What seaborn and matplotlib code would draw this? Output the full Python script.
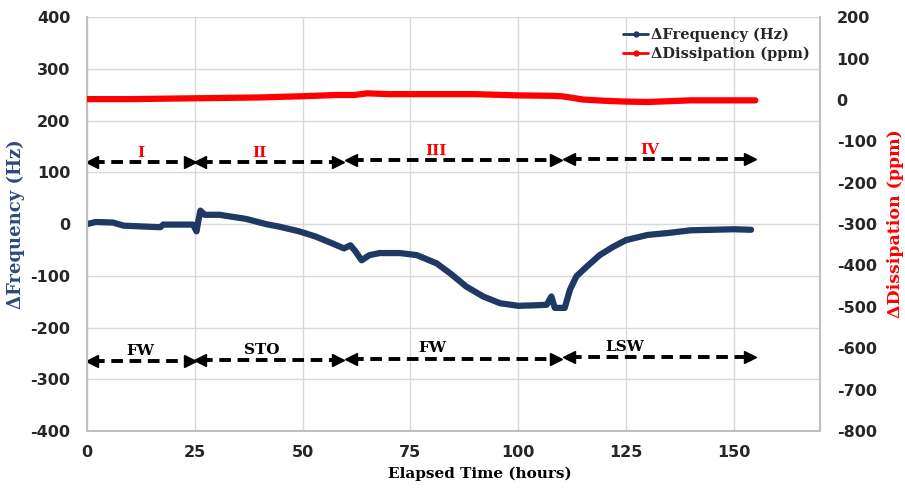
import matplotlib
matplotlib.use('Agg')
import matplotlib.pyplot as plt
import seaborn as sns
import pandas as pd
from matplotlib.lines import Line2D
from matplotlib.font_manager import FontProperties

# data
time_freq = [0, 2, 6, 8.5, 14, 17, 17.7, 24.6, 25.4, 25.8, 26.3, 27.3, 30.7, 36.9, 41.5, 44.6,
             49.2, 53, 57.1, 59.6, 61.1, 62.2, 63.7, 65.5, 67.9, 72.6, 76.5, 81.1, 84.2, 88,
             91.9, 95.8, 100, 104, 106.6, 107.7, 108.5, 110.8, 112, 113.5, 115.8, 118.9,
             122, 125, 130, 135, 140, 145, 150, 154]
freq_hz = [0, 4, 3, -3, -5, -6, -1, -1, -14, 5, 26, 18, 18, 10, 0, -5,
           -14, -24, -38, -47, -41, -52, -70, -60, -56, -56, -60, -76, -95, -121,
           -140, -153, -158, -157, -156, -140, -162, -162, -127, -101, -83, -60,
           -44, -31, -21, -17, -12, -11, -10, -11]

time_diss = [0, 10, 25, 40, 50, 58, 62, 65, 70, 80, 90, 100, 108, 110, 112, 115, 120, 125,
             130, 135, 140, 150, 155]
diss_ppm = [2, 2, 4, 6, 9, 12, 12, 16, 14, 14, 14, 11, 10, 9, 6, 1, -2, -4, -5, -3, -1, -1, -1]

phase_start = [0, 25, 60, 110.5]
phase_end = [25, 59.5, 110, 155]
phase_roman = ['I', 'II', 'III', 'IV']
phase_medium = ['FW', 'STO', 'FW', 'LSW']
roman_x = [12.5, 40, 81, 130.5]
medium_x = [12.3, 40.5, 80, 124.7]
roman_y = [120, 120, 123, 125]
medium_y = [-265, -263, -260, -257]

df_f = pd.DataFrame({'t': time_freq, 'f': freq_hz})
df_d = pd.DataFrame({'t': time_diss, 'd': diss_ppm})

sns.set_theme(style='white')
plt.rcParams['font.family'] = ['DejaVu Serif']
plt.rcParams['axes.unicode_minus'] = False

blue = '#1F3864'
red = '#FF0000'
grid = '#D9D9D9'

fig = plt.figure(figsize=(9.05, 4.88), dpi=100)
ax = fig.add_axes([0.0961, 0.1168, 0.81, 0.848])
ax2 = ax.twinx()

sns.lineplot(data=df_f, x='t', y='f', ax=ax, color=blue, linewidth=4.5)
sns.lineplot(data=df_d, x='t', y='d', ax=ax2, color=red, linewidth=4.5)

ax.set_xlim(0, 170)
ax.set_ylim(-400, 400)
ax2.set_ylim(-800, 200)
ax.set_xticks([0, 25, 50, 75, 100, 125, 150])
ax.set_yticks(range(-400, 401, 100))
ax2.set_yticks(range(-800, 201, 100))

ax.grid(True, color=grid, linewidth=1)
ax.set_axisbelow(True)
ax2.grid(False)

for a in (ax, ax2):
    for s in a.spines.values():
        s.set_visible(False)
    a.tick_params(length=0)
ax.spines['left'].set_visible(True)
ax.spines['bottom'].set_visible(True)
ax2.spines['right'].set_visible(True)
for s in (ax.spines['left'], ax.spines['bottom'], ax2.spines['right']):
    s.set_color('#BFBFBF')
    s.set_linewidth(1.5)

tick_font = FontProperties(family='DejaVu Sans', weight='bold', size=11.5)
for lbl in ax.get_xticklabels() + ax.get_yticklabels() + ax2.get_yticklabels():
    lbl.set_fontproperties(tick_font)
ax.tick_params(axis='y', pad=12)
ax.tick_params(axis='x', pad=10)
ax2.tick_params(axis='y', pad=12)

ax.set_xlabel('Elapsed Time (hours)', fontsize=11, fontweight='bold', color='black')
ax.xaxis.set_label_coords(0.536, -0.085)
ax.set_ylabel('ΔFrequency (Hz)', fontsize=13, fontweight='bold', color='#2E4A7D')
ax.yaxis.set_label_coords(-0.085, 0.5)
ax2.set_ylabel('ΔDissipation (ppm)', fontsize=12.5, fontweight='bold', color=red, rotation=90)
ax2.yaxis.set_label_coords(1.092, 0.5)

# phase arrows
for x0, x1, y in list(zip(phase_start, phase_end, roman_y)) + list(zip(phase_start, phase_end, medium_y)):
    ax.plot([x0 + 1.5, x1 - 1.5], [y, y], color='black', linestyle=(0, (3, 1.7)), linewidth=2.8)
    ax.plot([x0 + 1.2], [y], marker='<', color='black', markersize=8.5, linestyle='none')
    ax.plot([x1 - 1.2], [y], marker='>', color='black', markersize=8.5, linestyle='none')

for x, y, t in zip(roman_x, roman_y, phase_roman):
    ax.text(x, y + 18, t, color=red, fontsize=11, fontweight='bold', ha='center', va='center')
for x, y, t in zip(medium_x, medium_y, phase_medium):
    ax.text(x, y + 20, t, color='black', fontsize=11, fontweight='bold', ha='center', va='center')

handles = [Line2D([0], [0], color=blue, linewidth=2, marker='o', markersize=3.5),
           Line2D([0], [0], color=red, linewidth=2, marker='o', markersize=3.5)]
ax2.legend(handles, ['ΔFrequency (Hz)', 'ΔDissipation (ppm)'], loc='upper right',
           bbox_to_anchor=(1.0, 1.0), frameon=False, handlelength=1.7, handletextpad=0.2,
           labelspacing=0.35, borderaxespad=0.3, prop=dict(weight='bold', size=10.5))

plt.savefig('out.png', dpi=100)
